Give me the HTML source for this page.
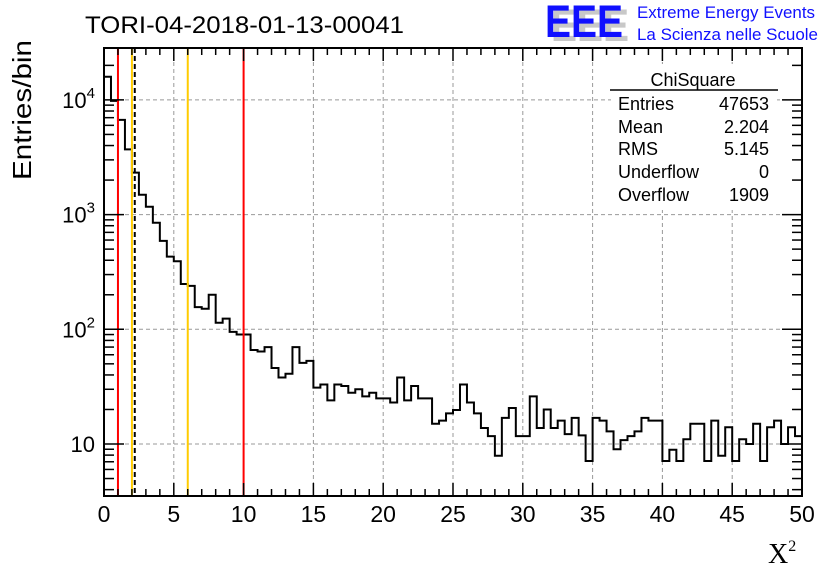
<!DOCTYPE html>
<html><head><meta charset="utf-8"><style>
body{margin:0;background:#fff}
svg{display:block;font-family:"Liberation Sans",sans-serif}
</style></head><body>
<svg id="c" width="836" height="572" viewBox="0 0 836 572">
<rect width="836" height="572" fill="#fff"/>
<text x="85" y="33" font-size="24" textLength="319" lengthAdjust="spacingAndGlyphs">TORI-04-2018-01-13-00041</text>
<g>
<text x="551" y="41" font-size="45" font-weight="bold" fill="#c8c8c8" textLength="78" lengthAdjust="spacingAndGlyphs">EEE</text>
<text x="545" y="37" font-size="45" font-weight="bold" fill="#1010ff" textLength="78" lengthAdjust="spacingAndGlyphs">EEE</text>
<text x="637" y="18" font-size="16.5" fill="#1010ff" textLength="178" lengthAdjust="spacingAndGlyphs">Extreme Energy Events</text>
<text x="637" y="40" font-size="16.5" fill="#1010ff" textLength="181" lengthAdjust="spacingAndGlyphs">La Scienza nelle Scuole</text>
</g>
<g id="grid"></g>
<g id="marks"></g>
<g id="axes"></g>
<g font-size="18">
<rect x="611" y="64" width="166" height="146" fill="#fff"/>
<text x="693" y="86" text-anchor="middle">ChiSquare</text>
<line x1="610" y1="90" x2="778" y2="90" stroke="#000" stroke-width="1.5"/>
<text x="618" y="110">Entries</text><text x="769" y="110" text-anchor="end">47653</text>
<text x="618" y="133">Mean</text><text x="769" y="133" text-anchor="end">2.204</text>
<text x="618" y="155">RMS</text><text x="769" y="155" text-anchor="end">5.145</text>
<text x="618" y="178">Underflow</text><text x="769" y="178" text-anchor="end">0</text>
<text x="618" y="201">Overflow</text><text x="769" y="201" text-anchor="end">1909</text>
</g>
<text transform="translate(31,110) rotate(-90)" text-anchor="middle" font-size="26" textLength="140" lengthAdjust="spacingAndGlyphs">Entries/bin</text>
<text x="768" y="563" font-family="Liberation Serif,serif" font-size="28">X<tspan font-size="16" dy="-12">2</tspan></text>
</svg>
<script>
const binCounts=[15900,9800,6700,3700,2320,1490,1170,850,590,430,392,248,239,156,151,200,114,124,95,90,
90,66,64,70,46,38,41,70,51,53,31,33,24,33,32,28,30,26,28,25,
25,23,38,24,32,25,25,15,16,18.5,19.8,33,23,18.5,13.8,11.7,7.9,16.9,20.6,11.7,
11.7,26,13.8,20,13.8,16,12.2,16.9,11.9,7.1,16.9,16,12.9,9,10.8,11.7,12.9,16.9,16,16,
7.1,8.9,7.1,11,15,15,7.1,16,7.9,14,7.1,11,10,15,7.1,14,16,10,14,11.7];
const xTicks=[0,5,10,15,20,25,30,35,40,45,50];
const yDecades=[10,100,1000,10000];
const yDecadeLabels=["10","10^2","10^3","10^4"];
const cutLines=[{v:1,c:"#ff0000",n:"cut-line-1"},{v:2,c:"#ffcc00",n:"cut-line-2"},{v:6,c:"#ffcc00",n:"cut-line-6"},{v:10,c:"#ff0000",n:"cut-line-10"}];
const meanValue=2.204;
const binWidth=0.5;

const X0=104,X1=802,Y0=48,Y1=496;
const ns="http://www.w3.org/2000/svg";
function sx(v){return X0+(v/50)*(X1-X0);}
function sy(v){return 444-(Math.log10(v)-1)*114.7;}
function mk(tag,attrs,parent){const e=document.createElementNS(ns,tag);for(const k in attrs)e.setAttribute(k,attrs[k]);parent.appendChild(e);return e;}
const grid=document.getElementById('grid'),marks=document.getElementById('marks'),axes=document.getElementById('axes');
xTicks.forEach(t=>{if(t>0&&t<50){const l=mk('line',{x1:sx(t),x2:sx(t),y1:Y0,y2:Y1,stroke:'#999','stroke-dasharray':'4,3','stroke-width':1},grid);

}});
yDecades.forEach(d=>{const l=mk('line',{x1:X0,x2:X1,y1:sy(d),y2:sy(d),stroke:'#999','stroke-dasharray':'4,3','stroke-width':1},grid);

});
let d='M'+X0+','+Y1;
binCounts.forEach((c,i)=>{const y=Math.min(Y1,sy(c));d+=' L'+sx(i*binWidth)+','+y+' L'+sx((i+1)*binWidth)+','+y;});
d+=' L'+X1+','+Y1;
const h=mk('path',{d:d,fill:'none',stroke:'#000','stroke-width':2},marks);


cutLines.forEach(cl=>{const l=mk('line',{x1:sx(cl.v),x2:sx(cl.v),y1:Y0,y2:Y1,stroke:cl.c,'stroke-width':2},marks);

});
const ml=mk('line',{x1:sx(meanValue),x2:sx(meanValue),y1:Y0,y2:Y1,stroke:'#000','stroke-width':2,'stroke-dasharray':'5,3'},marks);


const fr=mk('rect',{x:X0,y:Y0,width:X1-X0,height:Y1-Y0,fill:'none',stroke:'#000','stroke-width':2},axes);


for(let v=0;v<=50;v++){const L=v%5==0?13:7;
mk('line',{x1:sx(v),x2:sx(v),y1:Y1,y2:Y1-L,stroke:'#000','stroke-width':1.5},axes);
mk('line',{x1:sx(v),x2:sx(v),y1:Y0,y2:Y0+L,stroke:'#000','stroke-width':1.5},axes);}
xTicks.forEach(t=>{const tx=mk('text',{x:sx(t),y:522,'font-size':23,'text-anchor':'middle'},axes);tx.textContent=t;

});
for(let e=0;e<5;e++){for(let m=1;m<10;m++){const v=m*Math.pow(10,e);const y=sy(v);if(y<Y0||y>Y1)continue;const L=m==1?20:10;
mk('line',{x1:X0,x2:X0+L,y1:y,y2:y,stroke:'#000','stroke-width':1.5},axes);
mk('line',{x1:X1,x2:X1-L,y1:y,y2:y,stroke:'#000','stroke-width':1.5},axes);}}
yDecades.forEach((dv,i)=>{const lab=yDecadeLabels[i];const tx=mk('text',{x:95,y:sy(dv)+8,'font-size':22,'text-anchor':'end'},axes);
if(lab.indexOf('^')>0){const p=lab.split('^');tx.textContent=p[0];const ts=mk('tspan',{'font-size':15,dy:-10},tx);ts.textContent=p[1];}else tx.textContent=lab;

});
</script>
</body></html>
